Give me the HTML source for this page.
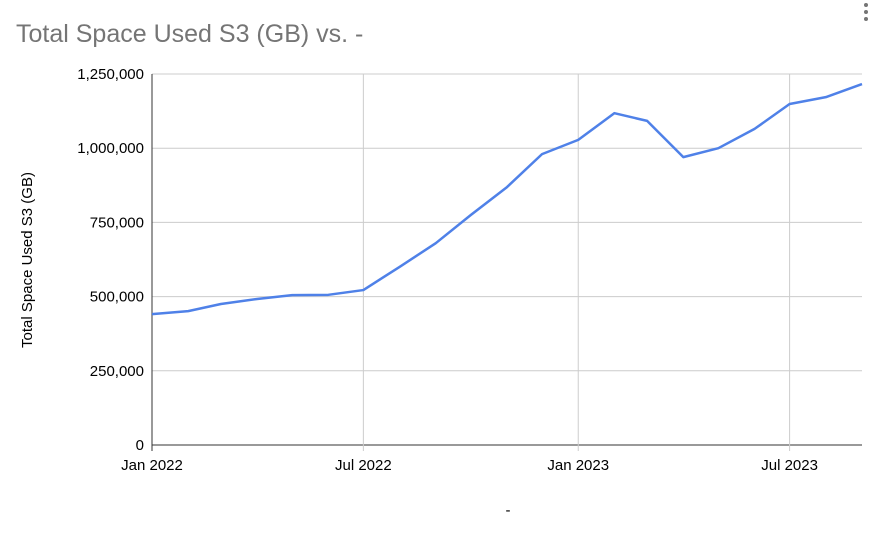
<!DOCTYPE html>
<html><head><meta charset="utf-8"><style>
body{margin:0;background:#fff;font-family:"Liberation Sans",Arial,sans-serif}
svg text{font-family:"Liberation Sans",Arial,sans-serif}
</style></head><body>
<svg id="chart" width="882" height="534">
<text x="16" y="42" font-size="25" fill="#757575">Total Space Used S3 (GB) vs. -</text>
<g fill="#757575"><circle cx="866" cy="5" r="2"/><circle cx="866" cy="12" r="2"/><circle cx="866" cy="19" r="2"/></g>
<g id="grid"></g><g id="axes"></g><g id="series"></g>
<text transform="translate(32,260) rotate(-90)" text-anchor="middle" font-size="15" fill="#000">Total Space Used S3 (GB)</text>
<text x="508" y="515" text-anchor="middle" font-size="15" fill="#000">-</text>
</svg>
<script>
const months=["2022-01","2022-02","2022-03","2022-04","2022-05","2022-06","2022-07","2022-08","2022-09","2022-10","2022-11","2022-12","2023-01","2023-02","2023-03","2023-04","2023-05","2023-06","2023-07","2023-08","2023-09"];
const values=[441000,451000,475000,492000,505000,506000,522000,600000,680000,775000,869000,980000,1028000,1118000,1092000,970000,1000000,1065000,1149000,1172000,1216000];
const yTicks=[0,250000,500000,750000,1000000,1250000];
const xTickDates=["2022-01","2022-07","2023-01","2023-07"];
const xTickLabels=["Jan 2022","Jul 2022","Jan 2023","Jul 2023"];
const NS="http://www.w3.org/2000/svg";
const x0=152,x1=862,y0=445,y1=74;
const t=d=>new Date(d+"-01T00:00:00Z").getTime();
const tMin=t(months[0]),tMax=t(months[months.length-1]);
const X=d=>x0+(t(d)-tMin)/(tMax-tMin)*(x1-x0);
const Y=v=>y0-v/1250000*(y0-y1);
function mk(tag,attrs,parent){const e=document.createElementNS(NS,tag);for(const k in attrs)e.setAttribute(k,attrs[k]);document.getElementById(parent).appendChild(e);return e;}
yTicks.forEach(v=>{
 const l=mk('line',{x1:x0,x2:x1,y1:Y(v),y2:Y(v),stroke:v===0?'#333':'#ccc','stroke-width':1},'grid');
 
 
 const tx=mk('text',{x:x0-8,y:Y(v)+5,'text-anchor':'end','font-size':15,fill:'#000'},'axes');
 tx.textContent=v.toLocaleString('en-US');
 
 
});
xTickDates.forEach((d,i)=>{
 const l=mk('line',{x1:X(d),x2:X(d),y1:y1,y2:y0+6,stroke:i===0?'#333':'#ccc','stroke-width':1},'grid');
 
 
 const tx=mk('text',{x:X(d),y:470,'text-anchor':'middle','font-size':15,fill:'#000'},'axes');
 tx.textContent=xTickLabels[i];
 
 
});
const p=mk('polyline',{points:months.map((m,i)=>X(m)+','+Y(values[i])).join(' '),fill:'none',stroke:'#4f81e8','stroke-width':2.5,'stroke-linejoin':'round'},'series');


</script>
</body></html>
